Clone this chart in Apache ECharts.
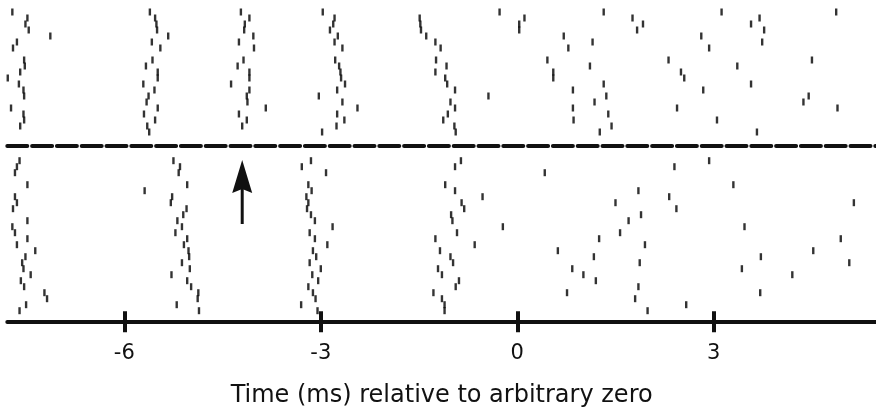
<!DOCTYPE html>
<html>
<head>
<meta charset="utf-8">
<script src="https://cdn.jsdelivr.net/npm/echarts@6/dist/echarts.min.js"></script>
<style>
  html, body { margin: 0; padding: 0; background: #fff; }
  #chart { width: 876px; height: 410px; }
</style>
</head>
<body>
<div id="chart"></div>
<script>
// spike times (ms) per trial, top block (above the dashed line)
const topTrials = [
  [-7.71, -5.61, -4.22, -2.97, -0.27, 1.32, 3.12, 4.87],
  [-7.48, -5.53, -4.09, -2.79, -1.49, 0.11, 1.76, 3.70],
  [-7.51, -5.51, -4.16, -2.81, -1.48, 0.03, 1.92, 3.57],
  [-7.46, -5.50, -4.17, -2.86, -1.47, 0.03, 1.83, 3.77],
  [-7.13, -5.33, -4.03, -2.74, -1.39, 0.71, 2.81],
  [-7.64, -5.58, -4.25, -2.79, -1.25, 1.15, 3.74],
  [-7.70, -5.45, -4.02, -2.67, -1.17, 0.78, 2.93],
  [],
  [-7.53, -5.57, -4.18, -2.78, -1.24, 0.46, 2.31, 4.50],
  [-7.52, -5.67, -4.27, -2.72, -1.08, 1.11, 3.36],
  [-7.59, -5.49, -4.09, -2.70, -1.25, 0.55, 2.50],
  [-7.78, -5.49, -4.09, -2.69, -1.10, 0.55, 2.55],
  [-7.61, -5.71, -4.37, -2.63, -1.07, 1.32, 3.57],
  [-7.54, -5.54, -4.09, -2.75, -0.95, 0.85, 2.84],
  [-7.53, -5.63, -4.13, -3.03, -0.44, 1.36, 4.45],
  [-5.66, -4.12, -2.67, -1.02, 1.18, 4.37],
  [-7.73, -5.49, -3.84, -2.44, -0.95, 0.85, 2.44, 4.89],
  [-7.54, -5.70, -4.25, -2.75, -1.06, 1.39],
  [-7.53, -5.53, -4.13, -2.64, -1.13, 0.86, 3.05],
  [-7.59, -5.65, -4.20, -2.76, -0.96, 1.44],
  [-5.62, -2.98, -0.94, 1.26, 3.66]
];

// spike times (ms) per trial, bottom block
const bottomTrials = [
  [-7.60, -5.25, -3.15, -0.86, 2.93],
  [-7.64, -5.15, -3.29, -0.95, 2.40],
  [-7.67, -5.17, -2.92, 0.42],
  [],
  [-7.48, -5.04, -3.19, -1.10, 3.30],
  [-5.69, -3.14, -0.95, 1.85],
  [-7.67, -5.27, -3.22, -0.53, 2.32],
  [-7.64, -5.29, -3.19, -0.85, 1.50, 5.14],
  [-7.70, -5.05, -3.21, -0.81, 2.43],
  [-5.10, -3.15, -1.01, 1.89],
  [-7.48, -5.19, -3.09, -0.99, 1.70],
  [-7.71, -5.12, -2.82, -0.22, 3.47],
  [-7.67, -5.22, -3.17, -0.92, 1.57],
  [-7.48, -5.04, -3.09, -1.25, 1.25, 4.94],
  [-7.64, -5.09, -2.90, -0.65, 1.95],
  [-7.36, -5.02, -3.12, -1.18, 0.62, 4.52],
  [-7.51, -5.01, -3.07, -1.02, 1.17, 3.72],
  [-7.56, -5.12, -3.17, -0.98, 1.87, 5.07],
  [-7.54, -5.00, -3.00, -1.21, 0.84, 3.43],
  [-7.43, -5.28, -3.13, -1.15, 1.01, 4.20],
  [-7.58, -5.04, -3.04, -0.89, 1.20],
  [-7.53, -4.98, -3.19, -0.94, 1.85],
  [-7.22, -4.87, -3.12, -1.28, 0.76, 3.71],
  [-7.18, -4.88, -3.08, -1.15, 1.80],
  [-7.50, -5.20, -3.30, -1.11, 2.58],
  [-7.60, -4.86, -3.05, -1.11, 1.99]
];

const tickValues = [-6, -3, 0, 3];
const timeRange = [-7.787, 5.478];
// arrow annotation: time and trial span in the bottom block (tip, tail)
const arrow = [-4.2, 0.4, 11.05];

const ink = '#111';
const font = 'DejaVu Sans';

function toPoints(trials) {
  const pts = [];
  trials.forEach((times, i) => {
    times.forEach(t => pts.push([t, i + 0.5]));
  });
  return pts;
}

const chart = echarts.init(document.getElementById('chart'));

const baseX = {
  type: 'value',
  min: timeRange[0],
  max: timeRange[1],
  position: 'bottom',
  splitLine: { show: false },
  axisLabel: { show: false },
  axisTick: { show: false }
};

chart.setOption({
  animation: false,
  grid: [
    { left: 7.3, width: 868.7, top: 9, height: 126 },
    { left: 7.3, width: 868.7, top: 157.7, height: 156 }
  ],
  xAxis: [
    // dashed separator
    Object.assign({}, baseX, {
      gridIndex: 0,
      offset: 11,
      axisLine: { onZero: false, lineStyle: { color: ink, width: 4, type: [20, 4.8] } }
    }),
    // time axis
    Object.assign({}, baseX, {
      gridIndex: 1,
      offset: 8,
      axisLine: { onZero: false, lineStyle: { color: ink, width: 4 } },
      axisTick: { show: true, customValues: tickValues, length: 10.5, lineStyle: { color: ink, width: 4 } },
      axisLabel: { show: true, customValues: tickValues, fontSize: 21, fontFamily: font, color: ink, margin: 21 },
      name: 'Time (ms) relative to arbitrary zero',
      nameLocation: 'middle',
      nameGap: 62,
      nameMoveOverlap: false,
      nameTextStyle: { fontSize: 24, fontFamily: font, color: ink }
    }),
    // inner half of the ticks
    Object.assign({}, baseX, {
      gridIndex: 1,
      offset: 8,
      axisLine: { show: false, onZero: false },
      axisTick: { show: true, inside: true, customValues: tickValues, length: 10.5, lineStyle: { color: ink, width: 4 } }
    })
  ],
  yAxis: [
    { gridIndex: 0, type: 'value', min: 0, max: topTrials.length, inverse: true, show: false },
    { gridIndex: 1, type: 'value', min: 0, max: bottomTrials.length, inverse: true, show: false }
  ],
  series: [
    {
      type: 'scatter',
      xAxisIndex: 0, yAxisIndex: 0,
      symbol: 'rect',
      symbolSize: [2.4, 7],
      itemStyle: { color: '#000' },
      silent: true,
      data: toPoints(topTrials)
    },
    {
      type: 'scatter',
      xAxisIndex: 1, yAxisIndex: 1,
      symbol: 'rect',
      symbolSize: [2.4, 7],
      itemStyle: { color: '#000' },
      silent: true,
      data: toPoints(bottomTrials)
    },
    {
      type: 'custom',
      xAxisIndex: 1, yAxisIndex: 1,
      silent: true,
      data: [arrow],
      renderItem: function (params, api) {
        const tip = api.coord([api.value(0), api.value(1)]);
        const tail = api.coord([api.value(0), api.value(2)]);
        const x = tip[0], y = tip[1];
        return {
          type: 'group',
          children: [
            { type: 'line', shape: { x1: x, y1: y + 26, x2: tail[0], y2: tail[1] }, style: { stroke: ink, lineWidth: 3 } },
            { type: 'polygon', shape: { points: [[x, y], [x + 10, y + 33], [x, y + 29], [x - 10, y + 33]] }, style: { fill: ink } }
          ]
        };
      }
    }
  ]
});
</script>
</body>
</html>
